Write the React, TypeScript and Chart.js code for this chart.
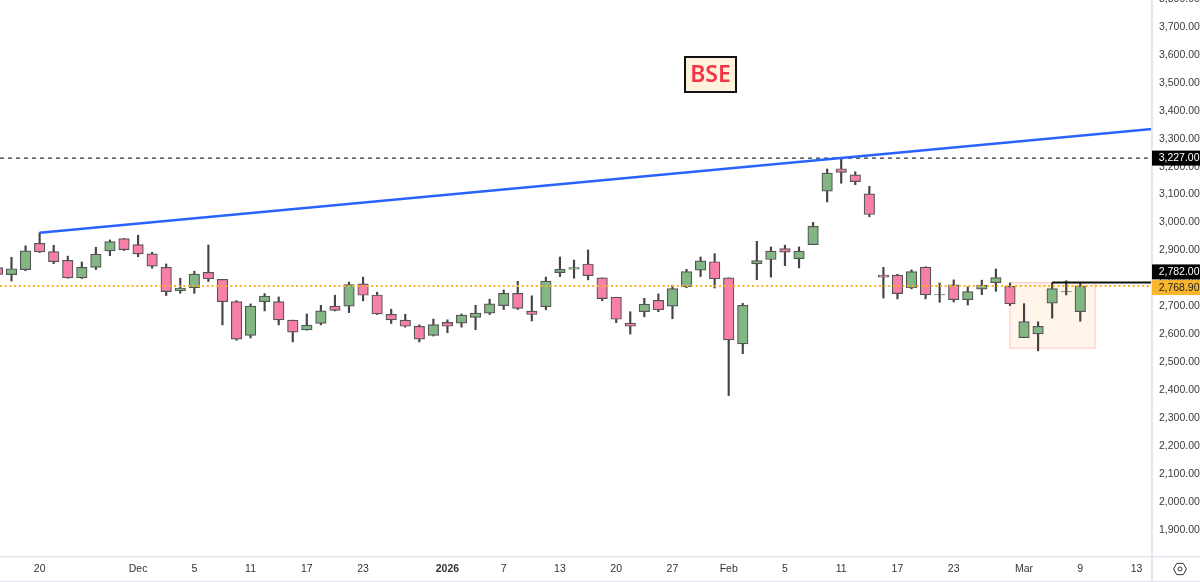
import { useEffect, useRef } from "react";
import { Chart, registerables } from "chart.js";

Chart.register(...registerables);

// daily candles, oldest first
const opens = [2835, 2810, 2828, 2922, 2892, 2861, 2798, 2836, 2895, 2939, 2917, 2884, 2836, 2752, 2763, 2818, 2793, 2713, 2592, 2713, 2713, 2647, 2612, 2635, 2697, 2697, 2777, 2737, 2668, 2647, 2625, 2592, 2639, 2636, 2657, 2672, 2699, 2743, 2679, 2695, 2817, 2829, 2848, 2798, 2729, 2636, 2677, 2718, 2697, 2766, 2826, 2856, 2798, 2562, 2848, 2864, 2903, 2867, 2917, 3109, 3189, 3167, 3099, 2808, 2808, 2762, 2837, 2738, 2773, 2720, 2758, 2781, 2768, 2584, 2598, 2708, 2749, 2677];
const highs = [2840, 2872, 2913, 2960, 2915, 2876, 2855, 2908, 2934, 2939, 2951, 2890, 2848, 2797, 2822, 2916, 2793, 2717, 2705, 2742, 2730, 2647, 2669, 2700, 2736, 2783, 2801, 2747, 2686, 2668, 2630, 2651, 2648, 2669, 2700, 2722, 2755, 2786, 2734, 2801, 2873, 2862, 2898, 2798, 2729, 2677, 2725, 2741, 2772, 2829, 2873, 2885, 2798, 2707, 2929, 2909, 2915, 2909, 2997, 3188, 3227, 3178, 3126, 2836, 2811, 2827, 2838, 2780, 2791, 2766, 2790, 2830, 2780, 2706, 2641, 2781, 2788, 2779];
const lows = [2805, 2787, 2824, 2889, 2849, 2797, 2796, 2828, 2878, 2896, 2874, 2833, 2735, 2743, 2743, 2785, 2630, 2575, 2583, 2680, 2630, 2569, 2611, 2630, 2680, 2674, 2716, 2667, 2635, 2622, 2569, 2590, 2602, 2622, 2613, 2667, 2685, 2685, 2644, 2684, 2803, 2797, 2791, 2716, 2638, 2597, 2659, 2677, 2652, 2763, 2803, 2762, 2377, 2527, 2792, 2801, 2842, 2834, 2917, 3070, 3137, 3132, 3017, 2726, 2723, 2759, 2723, 2711, 2712, 2701, 2738, 2750, 2699, 2584, 2537, 2654, 2737, 2643];
const closes = [2811, 2831, 2895, 2891, 2856, 2798, 2836, 2883, 2928, 2899, 2884, 2840, 2749, 2762, 2812, 2795, 2713, 2579, 2697, 2733, 2648, 2604, 2629, 2680, 2682, 2774, 2736, 2669, 2648, 2625, 2579, 2631, 2625, 2665, 2672, 2705, 2743, 2689, 2667, 2787, 2829, 2835, 2806, 2724, 2650, 2625, 2704, 2684, 2760, 2821, 2859, 2795, 2576, 2700, 2860, 2894, 2890, 2894, 2983, 3173, 3176, 3143, 3025, 2801, 2742, 2821, 2737, 2737, 2720, 2749, 2772, 2799, 2705, 2642, 2625, 2760, 2748, 2768.9];

const priceTicks = [1900, 2000, 2100, 2200, 2300, 2400, 2500, 2600, 2700, 2800, 2900, 3000, 3100, 3200, 3300, 3400, 3500, 3600, 3700, 3800];
const dateTickIndex = [3, 10, 14, 18, 22, 26, 32, 36, 40, 44, 48, 52, 56, 60, 64, 68, 73, 77, 81];
const dateTickLabels = ["20", "Dec", "5", "11", "17", "23", "2026", "7", "13", "20", "27", "Feb", "5", "11", "17", "23", "Mar", "9", "13"];

// drawings on the chart, in candle index / price
const trendFrom = [3, 2960];
const trendTo = [82.1, 3331];
const highLevel = 3227;
const resistLevel = 2782;
const lastPrice = 2768.9;
const resistStart = 75;
const zoneIndex = [72, 78.05];
const zonePrice = [2781, 2547];

const X_MIN = 0.182;
const X_MAX = 82.1;
const Y_MIN = 1799;
const Y_MAX = 3864.6;
const TOP_CUT = 20; // canvas sits this far above the page so the 3,800 label gets cut off

const UP = "#82b783";
const DOWN = "#f77fa8";
const AXIS = "#e4e5ee";
const AXIS_FONT = '"Liberation Sans", Arial, sans-serif';

const fmt = (v: number) =>
  v.toLocaleString("en-US", { minimumFractionDigits: 2, maximumFractionDigits: 2 });

const drawings = {
  id: "drawings",
  beforeDatasetsDraw(chart: Chart) {
    const { ctx, scales } = chart;
    const x0 = scales.x.getPixelForValue(zoneIndex[0]);
    const x1 = scales.x.getPixelForValue(zoneIndex[1]);
    const y0 = scales.y.getPixelForValue(zonePrice[0]);
    const y1 = scales.y.getPixelForValue(zonePrice[1]);
    ctx.save();
    ctx.fillStyle = "#fff5eb";
    ctx.strokeStyle = "#ffccd0";
    ctx.lineWidth = 1.2;
    ctx.fillRect(x0, y0, x1 - x0, y1 - y0);
    ctx.strokeRect(x0, y0, x1 - x0, y1 - y0);
    ctx.restore();
  },
  afterDraw(chart: Chart) {
    const { ctx, scales } = chart;

    // axis frame
    ctx.save();
    ctx.fillStyle = AXIS;
    ctx.fillRect(1151, 0, 2, 602);
    ctx.fillRect(0, 576, 1200, 1.5);
    ctx.fillRect(0, 601, 1200, 1);

    // price tags
    const tag = (value: number, bg: string, fg: string, shift: number) => {
      const y = scales.y.getPixelForValue(value) + shift;
      ctx.fillStyle = bg;
      ctx.fillRect(1152, y - 7.5, 48, 15);
      ctx.fillStyle = fg;
      ctx.font = `10.5px ${AXIS_FONT}`;
      ctx.textAlign = "right";
      ctx.textBaseline = "middle";
      ctx.fillText(fmt(value), 1199.5, y + 0.5);
    };
    tag(highLevel, "#000000", "#ffffff", 0);
    tag(resistLevel, "#000000", "#ffffff", -10.5);
    tag(lastPrice, "#f9b52c", "#222222", 1.5);

    // BSE label
    ctx.fillStyle = "#fff2dc";
    ctx.strokeStyle = "#111111";
    ctx.lineWidth = 2;
    ctx.fillRect(685, 57 + TOP_CUT, 51, 35);
    ctx.strokeRect(685, 57 + TOP_CUT, 51, 35);
    ctx.fillStyle = "#f23645";
    ctx.font = '600 23px "Noto Sans", sans-serif';
    ctx.textAlign = "center";
    ctx.textBaseline = "middle";
    ctx.fillText("BSE", 710.5, 75.5 + TOP_CUT);

    // settings icon
    const cx = 1180;
    const cy = 569 + TOP_CUT;
    ctx.strokeStyle = "#333333";
    ctx.lineWidth = 1;
    ctx.beginPath();
    for (let a = 0; a < 6; a++) {
      const t = (Math.PI / 3) * a;
      const px = cx + 6.5 * Math.cos(t);
      const py = cy + 6.5 * Math.sin(t);
      if (a === 0) ctx.moveTo(px, py);
      else ctx.lineTo(px, py);
    }
    ctx.closePath();
    ctx.stroke();
    ctx.beginPath();
    ctx.arc(cx, cy, 2, 0, Math.PI * 2);
    ctx.stroke();
    ctx.restore();
  },
};

export default function App() {
  const chartRef = useRef<HTMLCanvasElement>(null);

  useEffect(() => {
    if (!chartRef.current) return;

    const colors = closes.map((c, i) => {
      if (Math.abs(c - opens[i]) < 2) return "#444444";
      return c >= opens[i] ? UP : DOWN;
    });

    const chart = new Chart(chartRef.current, {
      type: "bar",
      data: {
        datasets: [
          {
            type: "line",
            data: [
              { x: trendFrom[0], y: trendFrom[1] },
              { x: trendTo[0], y: trendTo[1] },
            ],
            borderColor: "#2962ff",
            borderWidth: 2.5,
            pointRadius: 0,
            order: 0,
          },
          {
            type: "line",
            data: [
              { x: X_MIN, y: highLevel },
              { x: X_MAX - 0.3, y: highLevel },
            ],
            borderColor: "#333333",
            borderWidth: 1.2,
            borderDash: [4, 4],
            pointRadius: 0,
            order: 0,
          },
          {
            type: "line",
            data: [
              { x: resistStart, y: resistLevel },
              { x: X_MAX, y: resistLevel },
            ],
            borderColor: "#111111",
            borderWidth: 2,
            pointRadius: 0,
            order: 0,
          },
          {
            type: "line",
            data: [
              { x: X_MIN, y: lastPrice },
              { x: X_MAX, y: lastPrice },
            ],
            borderColor: "#fbb31f",
            borderWidth: 2,
            borderDash: [2, 2.7],
            pointRadius: 0,
            order: 0,
          },
          {
            data: opens.map((o, i) => ({ x: i, y: [o, closes[i]] })) as any,
            backgroundColor: colors,
            borderColor: "#555555",
            borderWidth: 1.2,
            borderSkipped: false,
            barThickness: 10.5,
            grouped: false,
            order: 1,
          },
          {
            data: lows.map((l, i) => ({ x: i, y: [l, highs[i]] })) as any,
            backgroundColor: "#444444",
            barThickness: 1.5,
            grouped: false,
            order: 2,
          },
        ],
      },
      options: {
        animation: false,
        responsive: false,
        devicePixelRatio: 1,
        layout: { padding: 0 },
        plugins: {
          legend: { display: false },
          tooltip: { enabled: false },
        },
        scales: {
          x: {
            type: "linear",
            offset: false,
            min: X_MIN,
            max: X_MAX,
            grid: { display: false, drawTicks: false },
            border: { display: false },
            afterBuildTicks: (axis: any) => {
              axis.ticks = dateTickIndex.map((value) => ({ value }));
            },
            afterFit: (axis: any) => {
              axis.height = 25;
              axis.paddingLeft = 0;
              axis.paddingRight = 0;
            },
            ticks: {
              autoSkip: false,
              maxRotation: 0,
              padding: 6,
              color: "#333333",
              font: (c: any) => ({
                family: AXIS_FONT,
                size: 10.5,
                weight: c.tick && c.tick.value === 32 ? "bold" : "normal",
              }),
              callback: (v: any) => dateTickLabels[dateTickIndex.indexOf(Number(v))] ?? "",
            },
          },
          y: {
            type: "linear",
            position: "right",
            min: Y_MIN,
            max: Y_MAX,
            grid: { display: false, drawTicks: false },
            border: { display: false },
            afterBuildTicks: (axis: any) => {
              axis.ticks = priceTicks.map((value) => ({ value }));
            },
            afterFit: (axis: any) => {
              axis.width = 48;
              // no room kept for half a label, the plot runs to the canvas top
              axis.paddingTop = 0;
              axis.paddingBottom = 0;
            },
            ticks: {
              padding: 7,
              labelOffset: 1,
              color: "#3a3a3a",
              font: { family: AXIS_FONT, size: 10.5 },
              callback: (v: any) => fmt(Number(v)),
            },
          },
        },
      },
      plugins: [drawings],
    });

    return () => {
      chart.destroy();
    };
  }, []);

  return (
    <div
      style={{
        position: "fixed",
        left: 0,
        top: 0,
        width: 1200,
        height: 582,
        overflow: "hidden",
        background: "#fff",
      }}
    >
      <canvas
        ref={chartRef}
        width={1200}
        height={582 + TOP_CUT}
        style={{ position: "absolute", left: 0, top: -TOP_CUT, display: "block" }}
      />
    </div>
  );
}
